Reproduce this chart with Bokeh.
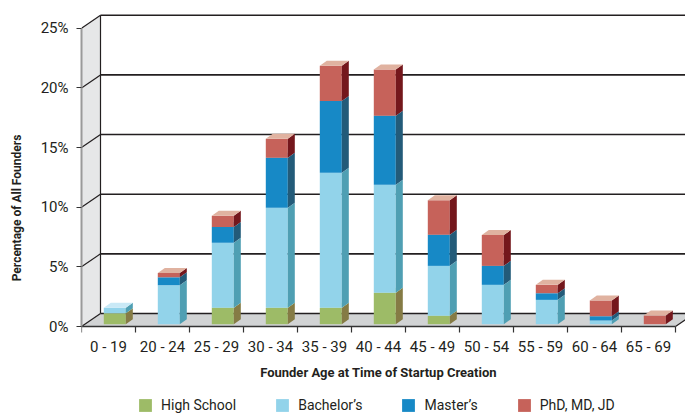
import numpy as np
from bokeh.plotting import figure
from bokeh.models import Range1d, FixedTicker, Legend, LegendItem
from bokeh.embed import file_html
from bokeh.resources import INLINE

# ---------------- data ----------------
age_groups = ["0 - 19", "20 - 24", "25 - 29", "30 - 34", "35 - 39", "40 - 44",
              "45 - 49", "50 - 54", "55 - 59", "60 - 64", "65 - 69"]
high_school = [0.92, 0.0, 1.37, 1.37, 1.37, 2.63, 0.70, 0.0, 0.0, 0.0, 0.0]
bachelors   = [0.45, 3.27, 5.45, 8.39, 11.33, 9.06, 4.19, 3.30, 2.04, 0.31, 0.0]
masters     = [0.0, 0.67, 1.32, 4.19, 6.00, 5.78, 2.60, 1.59, 0.56, 0.36, 0.0]
phd         = [0.0, 0.36, 0.95, 1.60, 2.97, 3.89, 2.91, 2.58, 0.70, 1.32, 0.73]
series_names = ["High School", "Bachelor\u2019s", "Master\u2019s", "PhD, MD, JD"]
y_ticks = [0, 5, 10, 15, 20, 25]
y_tick_labels = ["0%", "5%", "10%", "15%", "20%", "25%"]

# ---------------- style ----------------
front_colors = ["#9dbb67", "#92d3ea", "#1789c6", "#c6625a"]
side_colors  = ["#857b45", "#4f9fb3", "#235b79", "#74171c"]
top_colors   = ["#c9dba0", "#c9e9f6", "#7fbfe3", "#e0b2a0"]
FONT = "Roboto"
TXT = "#231f20"

W, H = 685, 415
FRAME_LEFT = 81
ZERO_Y = 326      # pixel row of 0 % on the front axis
PX_X = 54.0       # pixels per category
PX_Y = 11.93      # pixels per percent
WALL_DX = 19 / PX_X
WALL_DY = 13 / PX_Y
BAR_W = 22 / PX_X
BAR_DX = 7 / PX_X
BAR_DY = 5 / PX_Y
BAR_OFF_X = 6.3 / PX_X
BAR_OFF_Y = 2.3 / PX_Y

n = len(age_groups)
x_end = (W - FRAME_LEFT) / PX_X
y_end = ZERO_Y / PX_Y
y_start = -(H - ZERO_Y) / PX_Y

p = figure(width=W, height=H, output_backend="svg", toolbar_location=None,
           x_range=Range1d(0, x_end), y_range=Range1d(y_start, y_end),
           min_border_left=FRAME_LEFT, min_border_right=0, min_border_top=0,
           min_border_bottom=0)
p.outline_line_color = None
p.xgrid.visible = False
p.ygrid.visible = False
p.background_fill_color = "white"
p.border_fill_color = "white"

# ---------------- walls & floor ----------------
p.patch([0, WALL_DX, WALL_DX, 0], [0, WALL_DY, y_ticks[-1] + WALL_DY, y_ticks[-1]],
        fill_color="#e6e7e8", line_color=None)
p.patch([0, n, n + WALL_DX, WALL_DX], [0, 0, WALL_DY, WALL_DY],
        fill_color="#d1d3d4", line_color=None)

yt = np.array(y_ticks, dtype=float)
p.segment(x0=[WALL_DX] * len(yt), y0=yt + WALL_DY, x1=[x_end] * len(yt), y1=yt + WALL_DY,
          line_color="#231f20", line_width=1.6)
p.segment(x0=[0] * len(yt), y0=yt, x1=[WALL_DX] * len(yt), y1=yt + WALL_DY,
          line_color="#231f20", line_width=1.2)
p.segment(x0=[WALL_DX], y0=[WALL_DY], x1=[WALL_DX], y1=[yt[-1] + WALL_DY],
          line_color="#231f20", line_width=1.2)
p.segment(x0=[n], y0=[0], x1=[n + WALL_DX], y1=[WALL_DY],
          line_color="#231f20", line_width=1.2)

# ---------------- 3D stacked bars ----------------
centers = np.arange(n) + 0.5 + BAR_OFF_X
lefts = centers - BAR_W / 2
rights = centers + BAR_W / 2
base = np.full(n, BAR_OFF_Y)
renderers = []
for k, vals in enumerate([high_school, bachelors, masters, phd]):
    v = np.array(vals, dtype=float)
    bottom = base.copy()
    top = base + v
    m = v > 0
    r = p.quad(left=lefts[m], right=rights[m], bottom=bottom[m], top=top[m],
               fill_color=front_colors[k], line_color=None)
    renderers.append(r)
    side_xs = [[R, R + BAR_DX, R + BAR_DX, R] for R in rights[m]]
    side_ys = [[b, b + BAR_DY, t + BAR_DY, t] for b, t in zip(bottom[m], top[m])]
    p.patches(side_xs, side_ys, fill_color=side_colors[k], line_color=None)
    top_xs = [[L, R, R + BAR_DX, L + BAR_DX] for L, R in zip(lefts[m], rights[m])]
    top_ys = [[t, t, t + BAR_DY, t + BAR_DY] for t in top[m]]
    p.patches(top_xs, top_ys, fill_color=top_colors[k], line_color=None)
    base = top

# ---------------- axes ----------------
xa = p.xaxis[0]
xa.fixed_location = 0
xa.ticker = FixedTicker(ticks=[i + 0.5 for i in range(n)], minor_ticks=list(range(n + 1)))
xa.major_label_overrides = {i + 0.5: lab for i, lab in enumerate(age_groups)}
xa.bounds = (0, n)
xa.major_tick_out = 0
xa.major_tick_in = 0
xa.minor_tick_out = 6
xa.minor_tick_in = 0
xa.minor_tick_line_color = "#333333"
xa.minor_tick_line_width = 1.2
xa.axis_line_color = "#333333"
xa.axis_line_width = 1.5
xa.major_label_standoff = 5
xa.major_label_text_font = FONT
xa.major_label_text_font_size = "15px"
xa.major_label_text_color = TXT
xa.axis_label = "Founder Age at Time of Startup Creation"
xa.axis_label_text_font = FONT
xa.axis_label_text_font_style = "bold"
xa.axis_label_text_font_size = "13px"
xa.axis_label_text_color = TXT
xa.axis_label_standoff = 6

ya = p.yaxis[0]
ya.ticker = FixedTicker(ticks=y_ticks)
ya.major_label_overrides = {t: lab for t, lab in zip(y_ticks, y_tick_labels)}
ya.bounds = (y_ticks[0], y_ticks[-1])
ya.minor_tick_line_color = None
ya.major_tick_out = 5
ya.major_tick_in = 0
ya.major_tick_line_color = "#333333"
ya.major_tick_line_width = 1.2
ya.axis_line_color = "#9a9a9a"
ya.axis_line_width = 2
ya.major_label_standoff = 8
ya.major_label_text_font = FONT
ya.major_label_text_font_size = "15px"
ya.major_label_text_color = TXT
ya.axis_label = "Percentage of All Founders"
ya.axis_label_text_font = FONT
ya.axis_label_text_font_style = "bold"
ya.axis_label_text_font_size = "12px"
ya.axis_label_text_color = TXT
ya.axis_label_standoff = 14

# ---------------- legend ----------------
legend = Legend(items=[LegendItem(label=name, renderers=[r])
                       for name, r in zip(series_names, renderers)],
                orientation="horizontal", location=(56, 2),
                glyph_width=16, glyph_height=16, label_standoff=8, spacing=38,
                padding=0, margin=0, border_line_color=None, background_fill_alpha=0,
                label_text_font=FONT, label_text_font_size="14px", label_text_color=TXT)
p.add_layout(legend, "center")

open("out.html", "w").write(file_html(p, INLINE))
